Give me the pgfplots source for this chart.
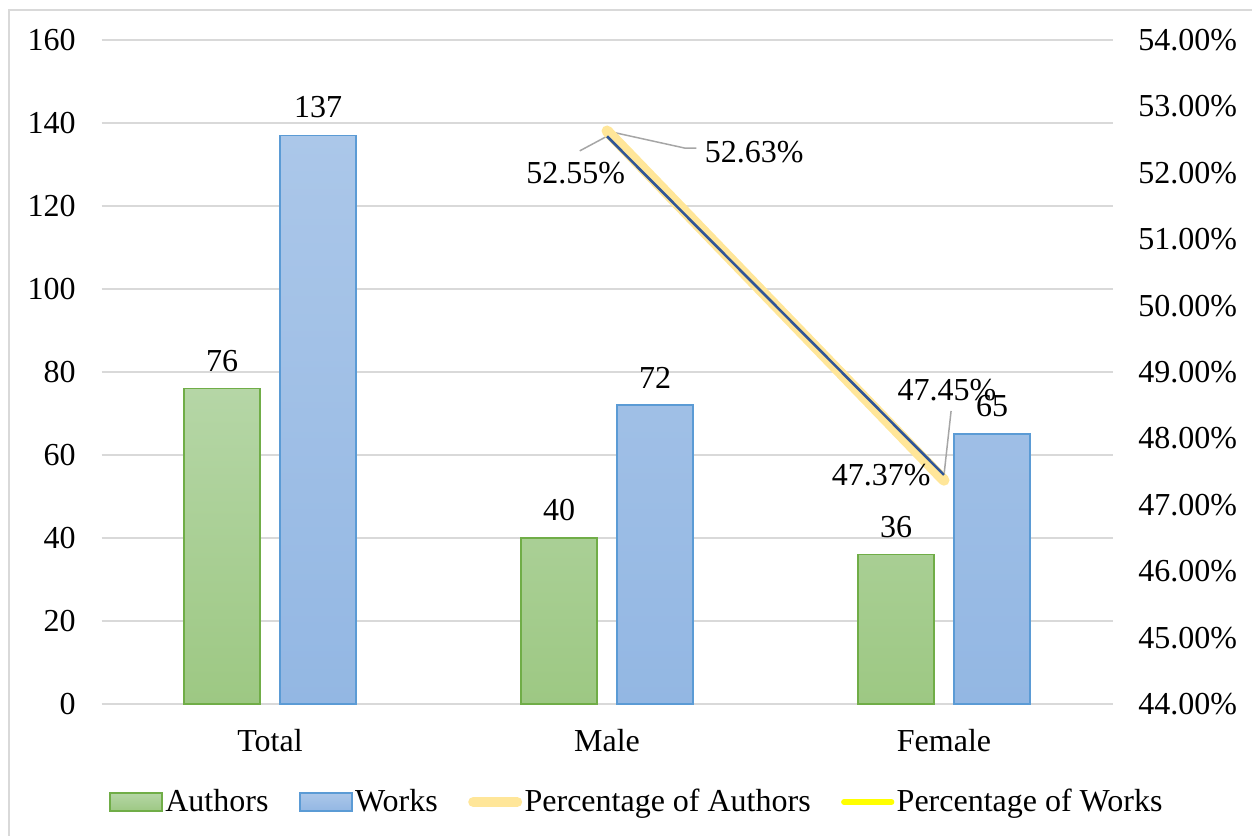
\documentclass[border=0pt]{standalone}
\usepackage{fontspec}
\setmainfont{Liberation Serif}
\usepackage{pgfplots}
\pgfplotsset{compat=1.18}

\definecolor{gridgray}{RGB}{217,217,217}
\definecolor{greentop}{RGB}{181,214,166}
\definecolor{greenbot}{RGB}{157,200,131}
\definecolor{greenedge}{RGB}{112,173,71}
\definecolor{bluetop}{RGB}{171,199,233}
\definecolor{bluebot}{RGB}{147,183,227}
\definecolor{blueedge}{RGB}{91,155,213}
\definecolor{pctauth}{RGB}{255,230,153}
\definecolor{pctworks}{RGB}{47,85,151}
\definecolor{pctworkslegend}{RGB}{255,255,0}
\definecolor{leader}{RGB}{166,166,166}
\definecolor{framegray}{RGB}{217,217,217}

\newcommand{\chartfont}{\fontsize{16bp}{19bp}\selectfont}

\pgfplotsset{
  base/.style={
    scale only axis, width=505.5bp, height=332bp,
    at={(50.75bp,66bp)}, anchor=south west,
    xmin=-0.5, xmax=2.5,
    font=\chartfont,
    /pgf/number format/assume math mode=true,
    major tick length=0pt,
    tick style={draw=none},
    axis line style={draw=none},
    clip=false,
  },
}

\begin{document}
\begin{tikzpicture}
\useasboundingbox (0bp,0bp) rectangle (626bp,418bp);
\draw[framegray, line width=1bp] (4.5bp,-5bp) -- (4.5bp,413bp) -- (630bp,413bp);

% counts of authors and works
\begin{axis}[base,
  axis y line*=left, axis x line*=bottom,
  ymin=0, ymax=160, ytick={0,20,...,160},
  ymajorgrids, grid style={gridgray, line width=0.8bp},
  xtick={0,1,2}, xticklabels={Total,Male,Female},
  xticklabel style={yshift=-8.9bp},
  yticklabel style={xshift=-9.4bp},
  ybar=10bp, bar width=38bp,
  nodes near coords,
  nodes near coords style={font=\chartfont, text=black, yshift=4.8bp},
]
\addplot[draw=greenedge, line width=0.9bp, top color=greentop, bottom color=greenbot]
  coordinates {(0,76) (1,40) (2,36)};
\addplot[draw=blueedge, line width=0.9bp, top color=bluetop, bottom color=bluebot]
  coordinates {(0,137) (1,72) (2,65)};
\end{axis}

% percentage shares on the right-hand axis
\begin{axis}[base,
  axis y line*=right, axis x line*=bottom,
  xtick=\empty,
  ymin=44, ymax=54, ytick={44,45,...,54},
  yticklabel={\pgfmathprintnumber[fixed,fixed zerofill,precision=2]{\tick}\%},
  yticklabel style={xshift=9.4bp},
  legend columns=4,
  legend cell align=left,
  legend style={at={(0.5297,-0.1476)}, anchor=center, draw=none, fill=none,
    font=\chartfont,
    nodes={inner xsep=1.2bp, inner ysep=1bp},
    /tikz/every even column/.append style={column sep=14bp}},
]
\addlegendimage{legend image code/.code={\draw[draw=greenedge, line width=0.9bp, top color=greentop, bottom color=greenbot] (0bp,-4.5bp) rectangle (26bp,4.5bp);}}
\addlegendentry{Authors}
\addlegendimage{legend image code/.code={\draw[draw=blueedge, line width=0.9bp, top color=bluetop, bottom color=bluebot] (0bp,-4.5bp) rectangle (26bp,4.5bp);}}
\addlegendentry{Works}

\draw[leader, line width=0.75bp] (axis cs:1,52.63) -- (axis cs:1.230,52.373) -- (axis cs:1.265,52.373);
\draw[leader, line width=0.75bp] (axis cs:1,52.55) -- (axis cs:0.919,52.33);
\draw[leader, line width=0.75bp] (axis cs:2,47.45) -- (axis cs:2.021,48.413);

\addplot[pctauth, line width=5.5bp, line cap=round, mark=none,
  legend image code/.code={\draw[pctauth, line width=5bp, line cap=round] (2bp,0bp) -- (24bp,0bp);}]
  coordinates {(1,52.63) (2,47.37)};
\addlegendentry{Percentage of Authors}
\addplot[pctworks, line width=1.3bp, mark=none, forget plot]
  coordinates {(1,52.55) (2,47.45)};
\addlegendimage{legend image code/.code={\draw[pctworkslegend, line width=2.6bp, line cap=round] (1bp,0bp) -- (25bp,0bp);}}
\addlegendentry{Percentage of Works}

\node[anchor=west, inner sep=0] at (axis cs:1.289,52.313) {52.63\%};
\node[anchor=east, inner sep=0] at (axis cs:1.055,51.997) {52.55\%};
\node[inner sep=0] at (axis cs:2.009,48.729) {47.45\%};
\node[anchor=east, inner sep=0] at (axis cs:1.961,47.449) {47.37\%};
\end{axis}
\end{tikzpicture}
\end{document}
